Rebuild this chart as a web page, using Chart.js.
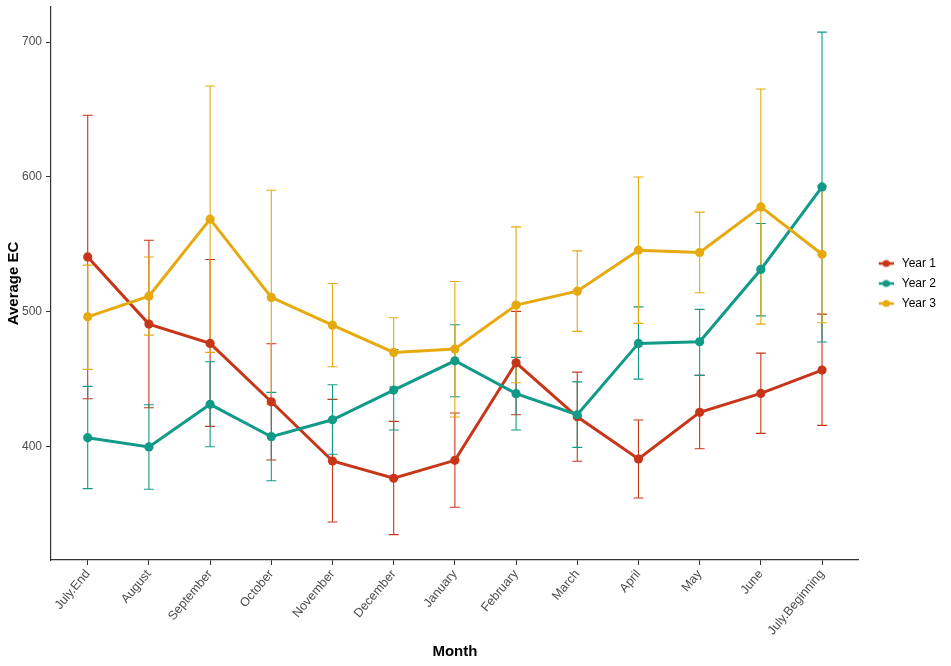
<!DOCTYPE html>
<html>
<head>
<meta charset="utf-8">
<script src="https://cdn.jsdelivr.net/npm/chart.js@4/dist/chart.umd.min.js"></script>
<style>
    html, body { margin: 0; padding: 0; background: #ffffff; }
    #wrap { width: 951px; height: 666px; }
</style>
</head>
<body>
<div id="wrap"><canvas id="ecChart" width="951" height="666"></canvas></div>
<script>
// ── Data ───────────────────────────────────────────────────────────────
var months = ["July.End", "August", "September", "October", "November", "December",
    "January", "February", "March", "April", "May", "June", "July.Beginning"];
var seriesNames = ["Year 1", "Year 2", "Year 3"];
var seriesColors = ["#C8361A", "#129A89", "#E6AA0E"];

var year1 = [540.7, 490.9, 476.6, 433.3, 389.4, 376.6, 389.9, 462.2, 422.2, 390.9, 425.5, 439.5, 456.8];
var year1Upper = [645.7, 553.1, 538.8, 476.3, 435.1, 418.8, 425.0, 500.3, 455.3, 419.8, 452.9, 469.4, 498.3];
var year1Lower = [435.6, 428.9, 415.1, 390.1, 344.2, 334.8, 355.1, 423.7, 389.2, 362.0, 398.5, 409.9, 415.8];

var year2 = [406.7, 399.8, 431.4, 407.4, 420.0, 442.0, 463.7, 439.3, 423.7, 476.6, 477.8, 531.4, 592.6];
var year2Upper = [444.7, 431.1, 463.0, 440.3, 445.9, 472.1, 490.4, 466.2, 448.1, 503.7, 501.8, 565.5, 707.4];
var year2Lower = [368.9, 368.4, 400.0, 374.8, 394.4, 412.4, 437.0, 412.4, 399.5, 450.1, 452.9, 497.0, 477.6];

var year3 = [496.3, 511.6, 568.7, 510.7, 490.1, 469.9, 472.4, 505.0, 515.3, 545.7, 544.0, 577.8, 542.7];
var year3Upper = [534.6, 540.7, 667.4, 590.1, 521.0, 495.6, 522.5, 563.0, 545.2, 600.0, 573.9, 665.2, 593.0];
var year3Lower = [457.3, 482.7, 469.9, 431.4, 459.3, 444.4, 422.0, 447.4, 485.5, 491.4, 514.1, 490.9, 491.9];

var yTicks = [400, 500, 600, 700];

var means = [year1, year2, year3];
var uppers = [year1Upper, year2Upper, year3Upper];
var lowers = [year1Lower, year2Lower, year3Lower];

// ── Helpers ────────────────────────────────────────────────────────────
function toPoints(values) {
    return values.map(function (v, i) { return { x: i, y: v }; });
}

// legend key: short line with a dot, left part left blank to push it right
function legendKey(color) {
    var c = document.createElement("canvas");
    c.width = 25;
    c.height = 10;
    var g = c.getContext("2d");
    g.strokeStyle = color;
    g.lineWidth = 2.6;
    g.beginPath();
    g.moveTo(10, 5);
    g.lineTo(25, 5);
    g.stroke();
    g.fillStyle = color;
    g.beginPath();
    g.arc(17.5, 5, 3.6, 0, Math.PI * 2);
    g.fill();
    return c;
}
var legendKeys = seriesColors.map(legendKey);

// ── Error bars (drawn under the lines) ─────────────────────────────────
var errorBars = {
    id: "errorBars",
    beforeDatasetsDraw: function (chart) {
        var ctx = chart.ctx;
        var xs = chart.scales.x;
        var ys = chart.scales.y;
        var cap = 5;
        ctx.save();
        ctx.lineWidth = 1.1;
        for (var s = 0; s < means.length; s++) {
            ctx.strokeStyle = seriesColors[s];
            for (var i = 0; i < months.length; i++) {
                var px = xs.getPixelForValue(i);
                var top = ys.getPixelForValue(uppers[s][i]);
                var bot = ys.getPixelForValue(lowers[s][i]);
                ctx.beginPath();
                ctx.moveTo(px, top);
                ctx.lineTo(px, bot);
                ctx.moveTo(px - cap, top);
                ctx.lineTo(px + cap, top);
                ctx.moveTo(px - cap, bot);
                ctx.lineTo(px + cap, bot);
                ctx.stroke();
            }
        }
        ctx.restore();
    }
};

// ── Chart ──────────────────────────────────────────────────────────────
var datasets = means.map(function (vals, s) {
    return {
        label: seriesNames[s],
        data: toPoints(vals),
        borderColor: seriesColors[s],
        backgroundColor: seriesColors[s],
        borderWidth: 3,
        tension: 0,
        pointRadius: 4.6,
        pointBorderWidth: 0,
        pointBackgroundColor: seriesColors[s],
        pointStyle: "circle",
        order: 3 - s
    };
});

var axisFont = { family: "'Liberation Sans', Arial, sans-serif", size: 12 };
var monthFont = { family: "'Liberation Sans', Arial, sans-serif", size: 12.5 };
var titleFont = { family: "'Liberation Sans', Arial, sans-serif", size: 15, weight: "bold" };

new Chart(document.getElementById("ecChart"), {
    type: "line",
    data: { datasets: datasets },
    plugins: [errorBars],
    options: {
        responsive: false,
        animation: false,
        layout: { padding: { top: 7, right: 5, bottom: 0, left: 0 } },
        plugins: {
            tooltip: { enabled: false },
            legend: {
                position: "right",
                fullSize: false,
                labels: {
                    usePointStyle: true,
                    pointStyleWidth: 29,
                    padding: 8,
                    color: "#000000",
                    font: axisFont,
                    generateLabels: function (chart) {
                        var items = Chart.defaults.plugins.legend.labels.generateLabels(chart);
                        items.sort(function (a, b) { return a.datasetIndex - b.datasetIndex; });
                        items.forEach(function (it) {
                            it.pointStyle = legendKeys[it.datasetIndex];
                        });
                        return items;
                    }
                }
            }
        },
        scales: {
            x: {
                type: "linear",
                min: -0.6,
                max: 12.6,
                afterBuildTicks: function (scale) {
                    scale.ticks = months.map(function (m, i) { return { value: i }; });
                },
                afterFit: function (scale) {
                    scale.height = 106;
                    scale.paddingLeft = 0;
                    scale.paddingRight = 0;
                },
                ticks: {
                    autoSkip: false,
                    minRotation: 50,
                    maxRotation: 50,
                    padding: 2,
                    color: "#4d4d4d",
                    font: monthFont,
                    callback: function (v) { return months[v]; }
                },
                grid: { drawOnChartArea: false, drawTicks: true, tickLength: 5, color: "#333333", lineWidth: 1 },
                border: { display: true, color: "#333333", width: 1.2 },
                title: { display: true, text: "Month", color: "#000000", font: titleFont, padding: { top: 0, bottom: 5 } }
            },
            y: {
                type: "linear",
                min: 316,
                max: 726,
                afterBuildTicks: function (scale) {
                    scale.ticks = yTicks.map(function (v) { return { value: v }; });
                },
                afterFit: function (scale) {
                    scale.width = 51;
                    scale.paddingTop = 0;
                    scale.paddingBottom = 0;
                },
                ticks: {
                    padding: 4,
                    color: "#4d4d4d",
                    font: axisFont
                },
                grid: { drawOnChartArea: false, drawTicks: true, tickLength: 5, color: "#333333", lineWidth: 1 },
                border: { display: true, color: "#333333", width: 1.2 },
                title: { display: true, text: "Average EC", color: "#000000", font: titleFont, padding: { top: 5, bottom: 0 } }
            }
        }
    }
});
</script>
</body>
</html>
